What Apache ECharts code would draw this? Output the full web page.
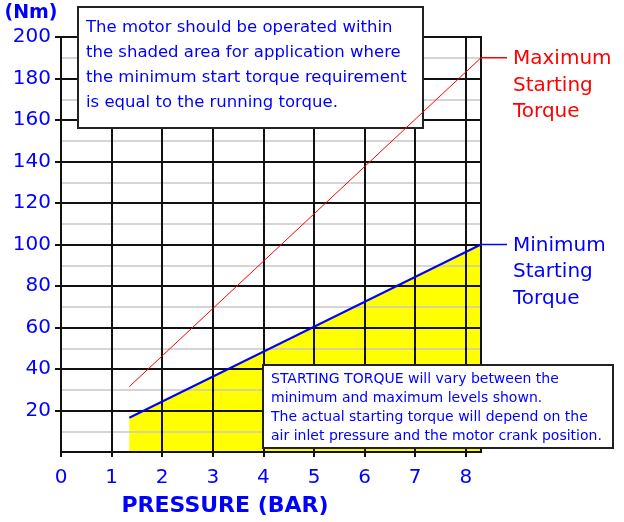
<!DOCTYPE html>
<html>
<head>
<meta charset="utf-8">
<script src="https://cdn.jsdelivr.net/npm/echarts@6/dist/echarts.min.js"></script>
<style>
  body { margin: 0; background: #fff; }
</style>
</head>
<body>
<div id="myChart" style="width:624px;height:522px;"></div>
<script>
// pressure (bar) -> starting torque (Nm)
const minTorque = [[1.35, 16.5], [8.3, 100]];
const maxTorque = [[1.35, 31.5], [8.3, 190]];
const minName = ['Minimum', 'Starting', 'Torque'];
const maxName = ['Maximum', 'Starting', 'Torque'];
const noteTop = [
  'The motor should be operated within',
  'the shaded area for application where',
  'the minimum start torque requirement',
  'is equal to the running torque.'
];
const noteBottom = [
  'STARTING TORQUE will vary between the',
  'minimum and maximum levels shown.',
  'The actual starting torque will depend on the',
  'air inlet pressure and the motor crank position.'
];

const blue = '#0000ff';
const red = '#ff0000';
const font = 'DejaVu Sans';

let myChart = echarts.init(document.getElementById('myChart'));
let option = {
  animation: false,
  textStyle: { fontFamily: font },
  grid: {
    left: 61, right: 143, top: 37, bottom: 65,
    show: true, borderColor: '#111', borderWidth: 2
  },
  xAxis: {
    type: 'value',
    min: 0, max: 8.3, interval: 1,
    name: 'PRESSURE (BAR)',
    nameLocation: 'middle',
    nameGap: 43,
    nameTextStyle: { color: blue, fontSize: 22, fontWeight: 'bold', fontFamily: font, padding: [0, 92, 0, 0] },
    axisLine: { lineStyle: { color: '#111', width: 2 } },
    axisTick: { show: true, length: 5, lineStyle: { color: '#111', width: 2 } },
    axisLabel: { color: blue, fontSize: 20, margin: 16, showMaxLabel: false },
    splitLine: { show: true, lineStyle: { color: '#111', width: 2 } }
  },
  yAxis: {
    type: 'value',
    min: 0, max: 200, interval: 20,
    name: '(Nm)',
    nameLocation: 'end',
    nameGap: 14,
    nameTextStyle: { color: blue, fontSize: 19, fontWeight: 'bold', fontFamily: font, padding: [0, 60, 0, 0] },
    axisLine: { show: true, lineStyle: { color: '#111', width: 2 } },
    axisTick: { show: true, length: 6, lineStyle: { color: '#111', width: 2 } },
    axisLabel: { color: blue, fontSize: 20, margin: 10, showMinLabel: false },
    splitLine: { show: true, lineStyle: { color: '#111', width: 2 } },
    minorTick: { show: false, splitNumber: 2 },
    minorSplitLine: { show: true, lineStyle: { color: '#c8c8c8', width: 1.5 } }
  },
  series: [
    {
      name: 'shaded',
      type: 'line',
      z: -1,
      symbol: 'none',
      data: minTorque,
      lineStyle: { width: 0 },
      areaStyle: { color: '#ffff00', opacity: 1 }
    },
    {
      name: 'Maximum Starting Torque',
      type: 'line',
      symbol: 'none',
      data: maxTorque,
      lineStyle: { color: red, width: 1 }
    },
    {
      name: 'Minimum Starting Torque',
      type: 'line',
      symbol: 'none',
      data: minTorque,
      lineStyle: { color: blue, width: 2 }
    }
  ]
};
myChart.setOption(option);

// annotations, placed from the data ends
let maxEnd = myChart.convertToPixel({ gridIndex: 0 }, maxTorque[maxTorque.length - 1]);
let minEnd = myChart.convertToPixel({ gridIndex: 0 }, minTorque[minTorque.length - 1]);

function endLabel(pt, lines, color) {
  return {
    type: 'group', z: 100,
    children: [
      { type: 'line', shape: { x1: pt[0], y1: pt[1], x2: pt[0] + 26, y2: pt[1] }, style: { stroke: color, lineWidth: 1.5 } },
      { type: 'text', x: pt[0] + 32, y: pt[1] - 12,
        style: { text: lines.join('\n'), fill: color, font: '20px "' + font + '"', lineHeight: 26.5 } }
    ]
  };
}

function noteBox(x, y, w, h, lines, size, lh, dy) {
  return {
    type: 'group', z: 100,
    children: [
      { type: 'rect', shape: { x: x, y: y, width: w, height: h }, style: { fill: '#fff', stroke: '#222', lineWidth: 2 } },
      { type: 'text', x: x + 8, y: y + dy,
        style: { text: lines.join('\n'), fill: blue, font: size + 'px "' + font + '"', lineHeight: lh } }
    ]
  };
}

myChart.setOption({
  graphic: [
    endLabel(maxEnd, maxName, red),
    endLabel(minEnd, minName, blue),
    noteBox(78, 7, 345, 121, noteTop, 16.5, 25, 8),
    noteBox(263, 365, 350, 83, noteBottom, 14, 19, 5)
  ]
});
</script>
</body>
</html>
